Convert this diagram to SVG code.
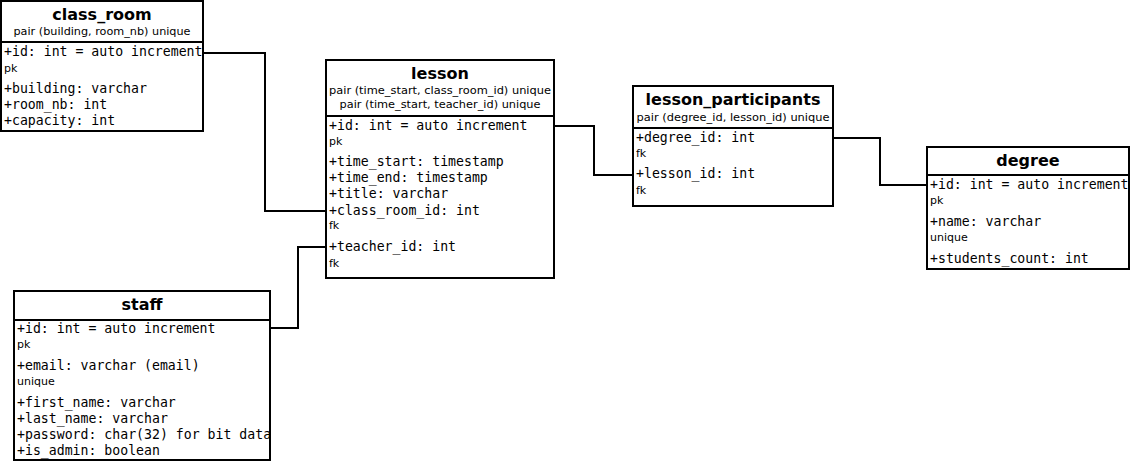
<svg xmlns="http://www.w3.org/2000/svg" width="1130" height="461" viewBox="0 0 1130 461">
  <style>
    .box { fill: #ffffff; stroke: #000000; stroke-width: 2; }
    .sep { stroke: #000000; stroke-width: 2; }
    .title { font-family: "DejaVu Sans", "Liberation Sans", sans-serif; font-weight: bold; font-size: 16px; text-anchor: middle; fill: #000; }
    .sub { font-family: "DejaVu Sans", "Liberation Sans", sans-serif; font-size: 11px; text-anchor: middle; fill: #000; }
    .attr { font-family: "DejaVu Sans Mono", "Liberation Mono", monospace; font-size: 13.2px; fill: #000; }
    .note { font-family: "DejaVu Sans", "Liberation Sans", sans-serif; font-size: 11px; fill: #000; }
    .link { fill: none; stroke: #000000; stroke-width: 2; }
  </style>

  <g id="connectors">
    <polyline class="link" points="203,53 265,53 265,211 326,211"/>
    <polyline class="link" points="270,328 298,328 298,247 326,247"/>
    <polyline class="link" points="554,126 594,126 594,175 633,175"/>
    <polyline class="link" points="833,138 880,138 880,185 927,185"/>
  </g>

  <g id="class_room">
    <rect class="box" x="1" y="1" width="202" height="130"/>
    <text class="title" x="102" y="20">class_room</text>
    <text class="sub" x="102" y="35" textLength="177" lengthAdjust="spacingAndGlyphs">pair (building, room_nb) unique</text>
    <line class="sep" x1="1" y1="42" x2="203" y2="42"/>
    <text class="attr" x="4" y="56">+id: int = auto increment</text>
    <text class="note" x="4" y="72">pk</text>
    <text class="attr" x="4" y="93">+building: varchar</text>
    <text class="attr" x="4" y="109">+room_nb: int</text>
    <text class="attr" x="4" y="125">+capacity: int</text>
  </g>

  <g id="lesson">
    <rect class="box" x="326" y="60" width="228" height="218"/>
    <text class="title" x="440" y="79">lesson</text>
    <text class="sub" x="440" y="94" textLength="222" lengthAdjust="spacingAndGlyphs">pair (time_start, class_room_id) unique</text>
    <text class="sub" x="440" y="108" textLength="201" lengthAdjust="spacingAndGlyphs">pair (time_start, teacher_id) unique</text>
    <line class="sep" x1="326" y1="116" x2="554" y2="116"/>
    <text class="attr" x="329" y="130">+id: int = auto increment</text>
    <text class="note" x="329" y="145">pk</text>
    <text class="attr" x="329" y="166">+time_start: timestamp</text>
    <text class="attr" x="329" y="182">+time_end: timestamp</text>
    <text class="attr" x="329" y="198">+title: varchar</text>
    <text class="attr" x="329" y="215">+class_room_id: int</text>
    <text class="note" x="329" y="229">fk</text>
    <text class="attr" x="329" y="251">+teacher_id: int</text>
    <text class="note" x="329" y="267">fk</text>
  </g>

  <g id="lesson_participants">
    <rect class="box" x="633" y="86" width="200" height="120"/>
    <text class="title" x="733" y="105">lesson_participants</text>
    <text class="sub" x="733" y="121" textLength="193" lengthAdjust="spacingAndGlyphs">pair (degree_id, lesson_id) unique</text>
    <line class="sep" x1="633" y1="128" x2="833" y2="128"/>
    <text class="attr" x="636" y="142">+degree_id: int</text>
    <text class="note" x="636" y="157">fk</text>
    <text class="attr" x="636" y="178">+lesson_id: int</text>
    <text class="note" x="636" y="194">fk</text>
  </g>

  <g id="degree">
    <rect class="box" x="927" y="147" width="202" height="122"/>
    <text class="title" x="1028" y="166">degree</text>
    <line class="sep" x1="927" y1="175" x2="1129" y2="175"/>
    <text class="attr" x="930" y="189">+id: int = auto increment</text>
    <text class="note" x="930" y="204">pk</text>
    <text class="attr" x="930" y="226">+name: varchar</text>
    <text class="note" x="930" y="241">unique</text>
    <text class="attr" x="930" y="263">+students_count: int</text>
  </g>

  <g id="staff">
    <rect class="box" x="14" y="291" width="256" height="169"/>
    <text class="title" x="142" y="310">staff</text>
    <line class="sep" x1="14" y1="320" x2="270" y2="320"/>
    <text class="attr" x="17" y="333">+id: int = auto increment</text>
    <text class="note" x="17" y="348">pk</text>
    <text class="attr" x="17" y="370">+email: varchar (email)</text>
    <text class="note" x="17" y="385">unique</text>
    <text class="attr" x="17" y="407">+first_name: varchar</text>
    <text class="attr" x="17" y="423">+last_name: varchar</text>
    <text class="attr" x="17" y="439">+password: char(32) for bit data</text>
    <text class="attr" x="17" y="455">+is_admin: boolean</text>
  </g>
</svg>
